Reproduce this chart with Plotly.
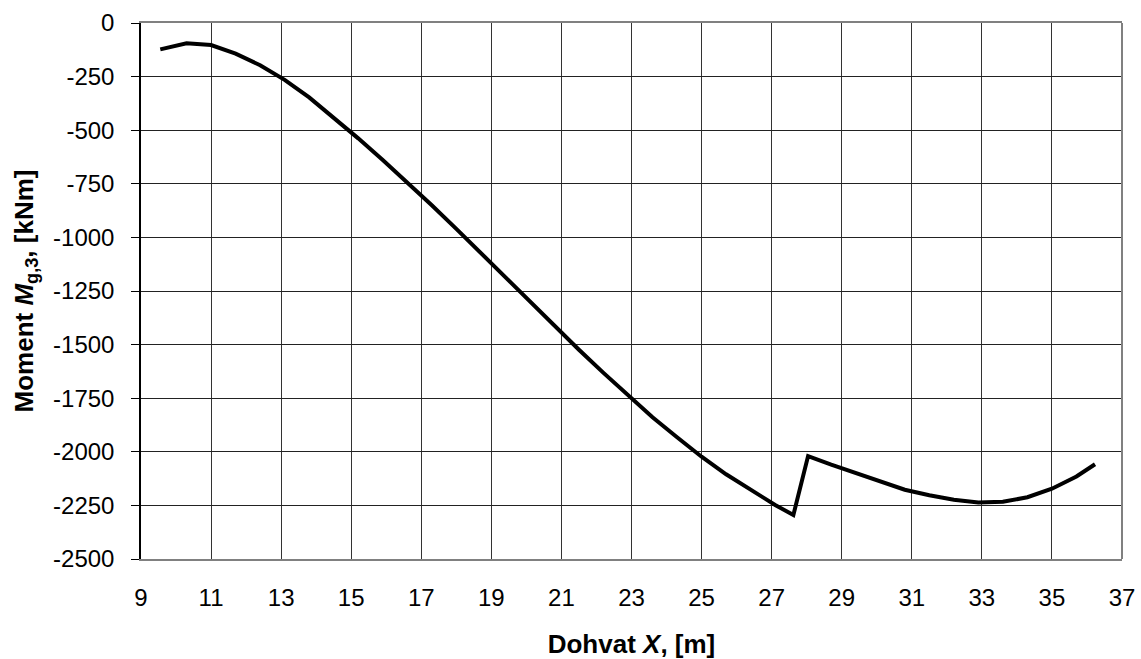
import plotly.graph_objects as go

x_vals = [9.55, 10.3, 11.0, 11.7, 12.4, 13.1, 13.8, 14.5, 15.2, 15.9, 16.6, 17.3,
          18.0, 18.7, 19.4, 20.1, 20.8, 21.5, 22.2, 22.9, 23.6, 24.3, 25.0, 25.7,
          26.4, 27.1, 27.62,
          28.04, 28.7, 29.4, 30.1, 30.8, 31.5, 32.2, 32.9, 33.6, 34.3, 35.0, 35.7, 36.23]
moment = [-123, -95, -103, -143, -197, -265, -347, -440, -538, -639, -743, -850,
          -960, -1073, -1188, -1302, -1414, -1524, -1632, -1737, -1839, -1932, -2023, -2105,
          -2178, -2248, -2295,
          -2020, -2060, -2100, -2138, -2177, -2203, -2224, -2237, -2233, -2212, -2172, -2115, -2058]

x_ticks = list(range(9, 38, 2))
y_tickvals = [0, -250, -500, -750, -1000, -1250, -1500, -1750, -2000, -2250, -2500]
y_ticktext = ["0", "-250", "-500", "-750", "-1000", "-1250", "-1500", "-1750", "-2000", "-2250", "-2500"]

fig = go.Figure()
fig.add_trace(go.Scatter(x=x_vals, y=moment, mode="lines",
                         line=dict(color="black", width=4), showlegend=False))

font_family = "Liberation Sans, Arial, sans-serif"
fig.update_layout(
    width=1141, height=659,
    margin=dict(l=141, r=19, t=23, b=100),
    paper_bgcolor="white", plot_bgcolor="white",
    font=dict(family=font_family, color="black", size=24),
    xaxis=dict(
        range=[9, 37], tickvals=x_ticks, ticks="",
        showgrid=True, gridcolor="#333", gridwidth=1,
        showline=True, linecolor="#808080", linewidth=2, mirror=True,
        tickfont=dict(size=24), ticklabelstandoff=16,
        zeroline=False, automargin=False,
        title=dict(text="<b>Dohvat <i>X</i>, [m]</b>", font=dict(size=26), standoff=26),
    ),
    yaxis=dict(
        range=[-2500, 0], tickvals=y_tickvals, ticktext=y_ticktext,
        ticks="outside", ticklen=8, tickcolor="black", tickwidth=1,
        showgrid=True, gridcolor="#222", gridwidth=1,
        showline=True, linecolor="black", linewidth=1.5,
        tickfont=dict(size=24), ticklabelstandoff=12,
        zeroline=False, automargin=False,
        title=dict(text="<b>Moment <i>M</i><sub>g,3</sub>, [kNm]</b>", font=dict(size=26), standoff=12),
    ),
    shapes=[dict(type="line", xref="paper", yref="paper", x0=1, x1=1, y0=0, y1=1,
                 line=dict(color="#808080", width=2))],
)

fig.write_html("out.html", config={"displayModeBar": False},
               post_script="document.body.style.margin='0';document.body.style.overflow='hidden';")
